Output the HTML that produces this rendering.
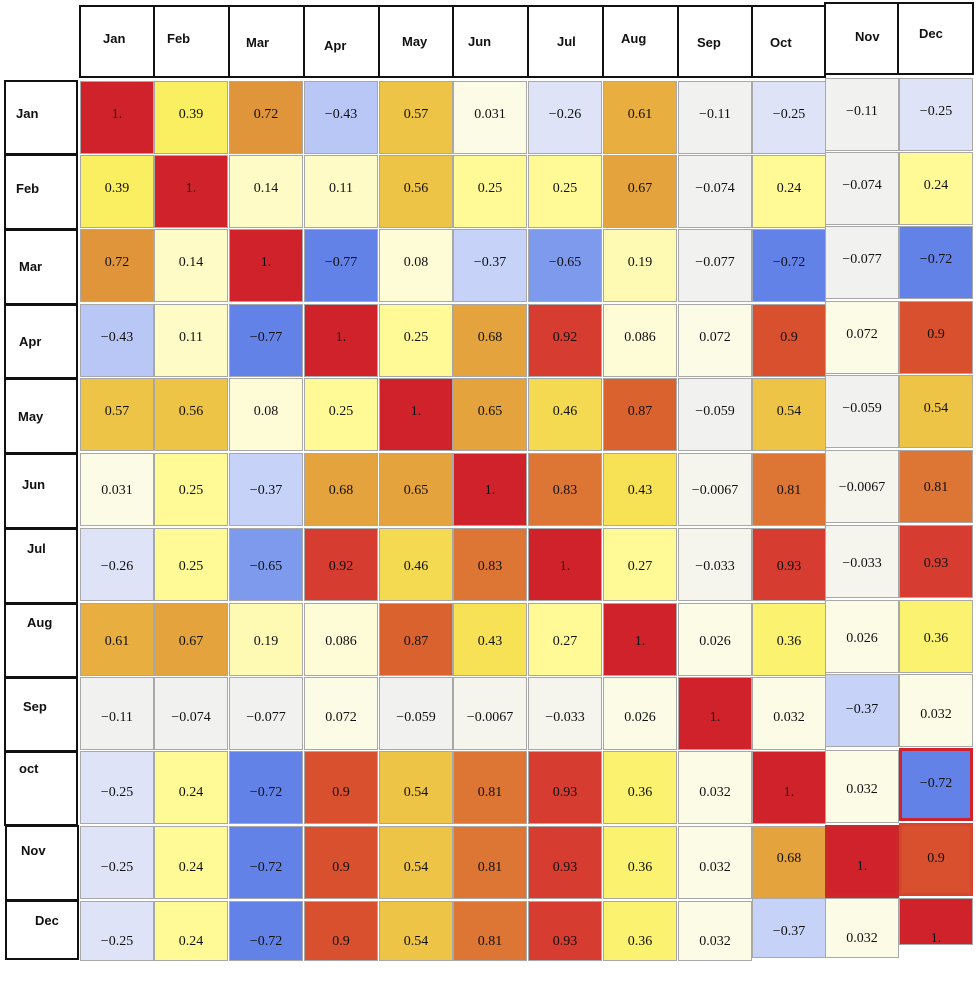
<!DOCTYPE html>
<html><head><meta charset="utf-8"><style>
body{margin:0;width:976px;height:952px;background:#fff;position:relative;overflow:hidden}
.c{position:absolute;width:74px;height:73px;border:1px solid #a8a8a8;box-sizing:border-box;text-align:center;line-height:66px;font-family:"Liberation Serif",serif;font-size:14px;color:#111}
.L .c{height:60px;line-height:80px}
.h{position:absolute;border:2px solid #111;box-sizing:border-box;font-family:"Liberation Sans",sans-serif;font-weight:bold;font-size:13px;color:#111}
.t{position:absolute;font-family:"Liberation Sans",sans-serif;font-weight:bold;font-size:13px;color:#111}
.a{background:#d0222b}.b{background:#d63c2f}.cc{background:#d9502e}.d{background:#da622f}.e{background:#dd7534}.f{background:#e0953a}.g{background:#e4a33d}.hh{background:#e8ae40}.i{background:#eec446}.j{background:#f4da50}.k{background:#f6e254}.l{background:#f9ef60}.m{background:#fbf270}.n{background:#fffa96}.o{background:#fefab4}.p{background:#fefbc6}.q{background:#fdfcd6}.r{background:#fcfce6}.s{background:#f5f5ee}.tt{background:#f1f2f0}.u{background:#dfe3f7}.v{background:#c6d2f8}.w{background:#b8c7f5}.x{background:#7e9aec}.y{background:#6282e8}
</style></head><body>
<!-- column header -->
<div class="h" style="left:79px;top:5px;width:747px;height:73px"></div>
<div style="position:absolute;left:153px;top:5px;width:2px;height:73px;background:#111"></div>
<div style="position:absolute;left:228px;top:5px;width:2px;height:73px;background:#111"></div>
<div style="position:absolute;left:303px;top:5px;width:2px;height:73px;background:#111"></div>
<div style="position:absolute;left:378px;top:5px;width:2px;height:73px;background:#111"></div>
<div style="position:absolute;left:452px;top:5px;width:2px;height:73px;background:#111"></div>
<div style="position:absolute;left:527px;top:5px;width:2px;height:73px;background:#111"></div>
<div style="position:absolute;left:602px;top:5px;width:2px;height:73px;background:#111"></div>
<div style="position:absolute;left:677px;top:5px;width:2px;height:73px;background:#111"></div>
<div style="position:absolute;left:751px;top:5px;width:2px;height:73px;background:#111"></div>
<div class="h" style="left:824px;top:2px;width:150px;height:73px"></div>
<div style="position:absolute;left:897px;top:2px;width:2px;height:73px;background:#111"></div>
<div class="t" style="left:103px;top:31px">Jan</div>
<div class="t" style="left:167px;top:31px">Feb</div>
<div class="t" style="left:246px;top:35px">Mar</div>
<div class="t" style="left:324px;top:38px">Apr</div>
<div class="t" style="left:402px;top:34px">May</div>
<div class="t" style="left:468px;top:34px">Jun</div>
<div class="t" style="left:557px;top:34px">Jul</div>
<div class="t" style="left:621px;top:31px">Aug</div>
<div class="t" style="left:697px;top:35px">Sep</div>
<div class="t" style="left:770px;top:35px">Oct</div>
<div class="t" style="left:855px;top:29px">Nov</div>
<div class="t" style="left:919px;top:26px">Dec</div>
<!-- row headers -->
<div class="h" style="left:4px;top:80px;width:74px;height:75px"></div>
<div class="h" style="left:4px;top:154px;width:74px;height:76px"></div>
<div class="h" style="left:4px;top:229px;width:74px;height:76px"></div>
<div class="h" style="left:4px;top:304px;width:74px;height:75px"></div>
<div class="h" style="left:4px;top:378px;width:74px;height:76px"></div>
<div class="h" style="left:4px;top:453px;width:74px;height:76px"></div>
<div class="h" style="left:4px;top:528px;width:74px;height:76px"></div>
<div class="h" style="left:4px;top:603px;width:74px;height:75px"></div>
<div class="h" style="left:4px;top:677px;width:74px;height:75px"></div>
<div class="h" style="left:4px;top:751px;width:74px;height:75px"></div>
<div class="h" style="left:5px;top:825px;width:74px;height:76px"></div>
<div class="h" style="left:5px;top:900px;width:74px;height:60px"></div>
<div class="t" style="left:16px;top:106px">Jan</div>
<div class="t" style="left:16px;top:181px">Feb</div>
<div class="t" style="left:19px;top:259px">Mar</div>
<div class="t" style="left:19px;top:334px">Apr</div>
<div class="t" style="left:18px;top:409px">May</div>
<div class="t" style="left:22px;top:477px">Jun</div>
<div class="t" style="left:27px;top:541px">Jul</div>
<div class="t" style="left:27px;top:615px">Aug</div>
<div class="t" style="left:23px;top:699px">Sep</div>
<div class="t" style="left:19px;top:761px">oct</div>
<div class="t" style="left:21px;top:843px">Nov</div>
<div class="t" style="left:35px;top:913px">Dec</div>

<!-- cells: main columns x=80,154,229,304,379,453,528,603,678,752 ; Nov/Dec x=825,899 -->
<div>
<div class="c a" style="left:80px;top:81px">1.</div><div class="c l" style="left:154px;top:81px">0.39</div><div class="c f" style="left:229px;top:81px">0.72</div><div class="c w" style="left:304px;top:81px">−0.43</div><div class="c i" style="left:379px;top:81px">0.57</div><div class="c r" style="left:453px;top:81px">0.031</div><div class="c u" style="left:528px;top:81px">−0.26</div><div class="c hh" style="left:603px;top:81px">0.61</div><div class="c tt" style="left:678px;top:81px">−0.11</div><div class="c u" style="left:752px;top:81px">−0.25</div><div class="c tt" style="left:825px;top:78px">−0.11</div><div class="c u" style="left:899px;top:78px">−0.25</div>

<div class="c l" style="left:80px;top:155px">0.39</div><div class="c a" style="left:154px;top:155px">1.</div><div class="c p" style="left:229px;top:155px">0.14</div><div class="c p" style="left:304px;top:155px">0.11</div><div class="c i" style="left:379px;top:155px">0.56</div><div class="c n" style="left:453px;top:155px">0.25</div><div class="c n" style="left:528px;top:155px">0.25</div><div class="c g" style="left:603px;top:155px">0.67</div><div class="c tt" style="left:678px;top:155px">−0.074</div><div class="c n" style="left:752px;top:155px">0.24</div><div class="c tt" style="left:825px;top:152px">−0.074</div><div class="c n" style="left:899px;top:152px">0.24</div>

<div class="c f" style="left:80px;top:229px">0.72</div><div class="c p" style="left:154px;top:229px">0.14</div><div class="c a" style="left:229px;top:229px">1.</div><div class="c y" style="left:304px;top:229px">−0.77</div><div class="c q" style="left:379px;top:229px">0.08</div><div class="c v" style="left:453px;top:229px">−0.37</div><div class="c x" style="left:528px;top:229px">−0.65</div><div class="c o" style="left:603px;top:229px">0.19</div><div class="c tt" style="left:678px;top:229px">−0.077</div><div class="c y" style="left:752px;top:229px">−0.72</div><div class="c tt" style="left:825px;top:226px">−0.077</div><div class="c y" style="left:899px;top:226px">−0.72</div>

<div class="c w" style="left:80px;top:304px">−0.43</div><div class="c p" style="left:154px;top:304px">0.11</div><div class="c y" style="left:229px;top:304px">−0.77</div><div class="c a" style="left:304px;top:304px">1.</div><div class="c n" style="left:379px;top:304px">0.25</div><div class="c g" style="left:453px;top:304px">0.68</div><div class="c b" style="left:528px;top:304px">0.92</div><div class="c q" style="left:603px;top:304px">0.086</div><div class="c r" style="left:678px;top:304px">0.072</div><div class="c cc" style="left:752px;top:304px">0.9</div><div class="c r" style="left:825px;top:301px">0.072</div><div class="c cc" style="left:899px;top:301px">0.9</div>

<div class="c i" style="left:80px;top:378px">0.57</div><div class="c i" style="left:154px;top:378px">0.56</div><div class="c q" style="left:229px;top:378px">0.08</div><div class="c n" style="left:304px;top:378px">0.25</div><div class="c a" style="left:379px;top:378px">1.</div><div class="c g" style="left:453px;top:378px">0.65</div><div class="c j" style="left:528px;top:378px">0.46</div><div class="c d" style="left:603px;top:378px">0.87</div><div class="c tt" style="left:678px;top:378px">−0.059</div><div class="c i" style="left:752px;top:378px">0.54</div><div class="c tt" style="left:825px;top:375px">−0.059</div><div class="c i" style="left:899px;top:375px">0.54</div>

<div class="c r" style="left:80px;top:453px;line-height:74px">0.031</div><div class="c n" style="left:154px;top:453px;line-height:74px">0.25</div><div class="c v" style="left:229px;top:453px;line-height:74px">−0.37</div><div class="c g" style="left:304px;top:453px;line-height:74px">0.68</div><div class="c g" style="left:379px;top:453px;line-height:74px">0.65</div><div class="c a" style="left:453px;top:453px;line-height:74px">1.</div><div class="c e" style="left:528px;top:453px;line-height:74px">0.83</div><div class="c k" style="left:603px;top:453px;line-height:74px">0.43</div><div class="c s" style="left:678px;top:453px;line-height:74px">−0.0067</div><div class="c e" style="left:752px;top:453px;line-height:74px">0.81</div><div class="c s" style="left:825px;top:450px;line-height:74px">−0.0067</div><div class="c e" style="left:899px;top:450px;line-height:74px">0.81</div>

<div class="c u" style="left:80px;top:528px;line-height:76px">−0.26</div><div class="c n" style="left:154px;top:528px;line-height:76px">0.25</div><div class="c x" style="left:229px;top:528px;line-height:76px">−0.65</div><div class="c b" style="left:304px;top:528px;line-height:76px">0.92</div><div class="c j" style="left:379px;top:528px;line-height:76px">0.46</div><div class="c e" style="left:453px;top:528px;line-height:76px">0.83</div><div class="c a" style="left:528px;top:528px;line-height:76px">1.</div><div class="c n" style="left:603px;top:528px;line-height:76px">0.27</div><div class="c s" style="left:678px;top:528px;line-height:76px">−0.033</div><div class="c b" style="left:752px;top:528px;line-height:76px">0.93</div><div class="c s" style="left:825px;top:525px;line-height:76px">−0.033</div><div class="c b" style="left:899px;top:525px;line-height:76px">0.93</div>

<div class="c hh" style="left:80px;top:603px;line-height:76px">0.61</div><div class="c g" style="left:154px;top:603px;line-height:76px">0.67</div><div class="c o" style="left:229px;top:603px;line-height:76px">0.19</div><div class="c q" style="left:304px;top:603px;line-height:76px">0.086</div><div class="c d" style="left:379px;top:603px;line-height:76px">0.87</div><div class="c k" style="left:453px;top:603px;line-height:76px">0.43</div><div class="c n" style="left:528px;top:603px;line-height:76px">0.27</div><div class="c a" style="left:603px;top:603px;line-height:76px">1.</div><div class="c r" style="left:678px;top:603px;line-height:76px">0.026</div><div class="c m" style="left:752px;top:603px;line-height:76px">0.36</div><div class="c r" style="left:825px;top:600px;line-height:76px">0.026</div><div class="c m" style="left:899px;top:600px;line-height:76px">0.36</div>

<div class="c tt" style="left:80px;top:677px;line-height:80px">−0.11</div><div class="c tt" style="left:154px;top:677px;line-height:80px">−0.074</div><div class="c tt" style="left:229px;top:677px;line-height:80px">−0.077</div><div class="c r" style="left:304px;top:677px;line-height:80px">0.072</div><div class="c tt" style="left:379px;top:677px;line-height:80px">−0.059</div><div class="c s" style="left:453px;top:677px;line-height:80px">−0.0067</div><div class="c s" style="left:528px;top:677px;line-height:80px">−0.033</div><div class="c r" style="left:603px;top:677px;line-height:80px">0.026</div><div class="c a" style="left:678px;top:677px;line-height:80px">1.</div><div class="c r" style="left:752px;top:677px;line-height:80px">0.032</div><div class="c v" style="left:825px;top:674px;line-height:70px">−0.37</div><div class="c r" style="left:899px;top:674px;line-height:80px">0.032</div>

<div class="c u" style="left:80px;top:751px;line-height:82px">−0.25</div><div class="c n" style="left:154px;top:751px;line-height:82px">0.24</div><div class="c y" style="left:229px;top:751px;line-height:82px">−0.72</div><div class="c cc" style="left:304px;top:751px;line-height:82px">0.9</div><div class="c i" style="left:379px;top:751px;line-height:82px">0.54</div><div class="c e" style="left:453px;top:751px;line-height:82px">0.81</div><div class="c b" style="left:528px;top:751px;line-height:82px">0.93</div><div class="c m" style="left:603px;top:751px;line-height:82px">0.36</div><div class="c r" style="left:678px;top:751px;line-height:82px">0.032</div><div class="c a" style="left:752px;top:751px;line-height:82px">1.</div><div class="c r" style="left:825px;top:750px;line-height:78px">0.032</div><div class="c y" style="left:899px;top:748px;line-height:66px;border:3px solid #d0222b">−0.72</div>

<div class="c u" style="left:80px;top:826px;line-height:82px">−0.25</div><div class="c n" style="left:154px;top:826px;line-height:82px">0.24</div><div class="c y" style="left:229px;top:826px;line-height:82px">−0.72</div><div class="c cc" style="left:304px;top:826px;line-height:82px">0.9</div><div class="c i" style="left:379px;top:826px;line-height:82px">0.54</div><div class="c e" style="left:453px;top:826px;line-height:82px">0.81</div><div class="c b" style="left:528px;top:826px;line-height:82px">0.93</div><div class="c m" style="left:603px;top:826px;line-height:82px">0.36</div><div class="c r" style="left:678px;top:826px;line-height:82px">0.032</div><div class="c g" style="left:752px;top:826px;line-height:64px">0.68</div><div class="c a" style="left:825px;top:825px;line-height:78px;border:3px solid #c82a2a">1.</div><div class="c cc" style="left:899px;top:823px;line-height:66px;border:3px solid #d64530">0.9</div>

<div class="L">
<div class="c u" style="left:80px;top:901px">−0.25</div><div class="c n" style="left:154px;top:901px">0.24</div><div class="c y" style="left:229px;top:901px">−0.72</div><div class="c cc" style="left:304px;top:901px">0.9</div><div class="c i" style="left:379px;top:901px">0.54</div><div class="c e" style="left:453px;top:901px">0.81</div><div class="c b" style="left:528px;top:901px">0.93</div><div class="c m" style="left:603px;top:901px">0.36</div><div class="c r" style="left:678px;top:901px">0.032</div><div class="c v" style="left:752px;top:898px;line-height:66px">−0.37</div><div class="c r" style="left:825px;top:898px;line-height:80px">0.032</div><div class="c a" style="left:899px;top:898px;height:47px;line-height:80px">1.</div>
</div>
</div>
</body></html>
